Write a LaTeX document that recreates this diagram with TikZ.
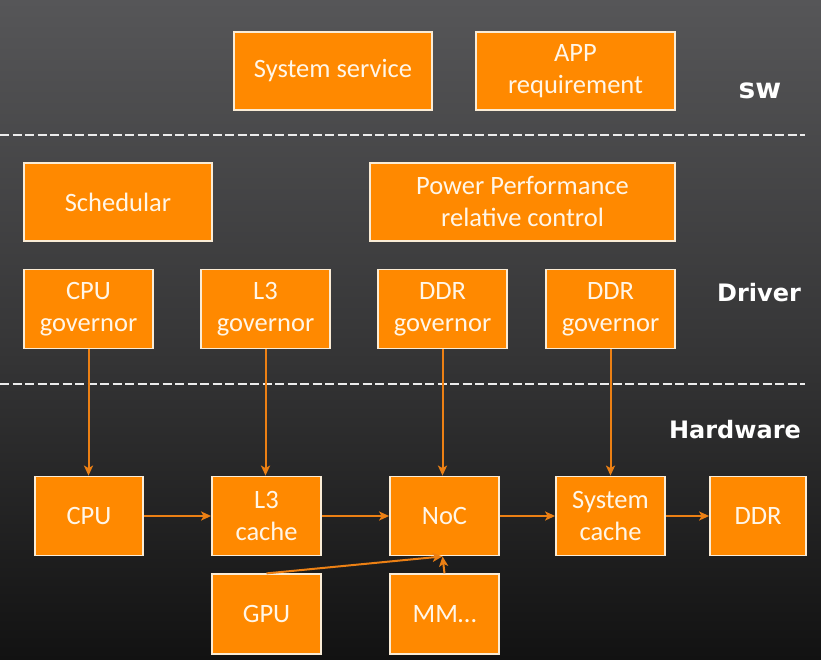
\documentclass[tikz,border=0pt]{standalone}
\usepackage{fontspec}
\setmainfont{Carlito}
\newfontfamily\layerfont{DejaVu Sans}
\usepackage{xcolor}
\usetikzlibrary{positioning, arrows.meta}

\definecolor{boxorange}{RGB}{255,137,0}
\definecolor{boxedge}{RGB}{250,236,214}
\definecolor{boxtext}{RGB}{255,246,232}
\definecolor{linkorange}{RGB}{236,128,20}
\definecolor{bgtop}{RGB}{86,86,88}
\definecolor{bgbottom}{RGB}{18,18,18}

\begin{document}
\begin{tikzpicture}[
    x=1pt, y=-1pt,
    block/.style={rectangle, draw=boxedge, line width=1.8pt, fill=boxorange,
        text=boxtext, align=center, inner sep=0pt,
        minimum height=78pt, font=\fontsize{26.5}{32}\selectfont},
    wide/.style={block, minimum width=198pt},
    gov/.style={block, minimum width=129pt, minimum height=79pt},
    hw/.style={block, minimum width=109pt, minimum height=79pt},
    layer/.style={text=white, font=\layerfont\bfseries\fontsize{24}{28}\selectfont},
    link/.style={draw=linkorange, line width=2pt, -{Stealth[length=10pt, width=9pt, inset=2.5pt]}},
    separator/.style={draw=white!85!gray, line width=2.8pt, dash pattern=on 9pt off 3.5pt}
]

% Background
\shade[top color=bgtop, bottom color=bgbottom, middle color=bgtop!55!bgbottom]
    (0,0) rectangle (821,660);
\useasboundingbox (0,0) rectangle (821,660);

% Software layer
\node[wide] (sysserv) at (333,71) {System service};
\node[wide, minimum width=199pt] (app) at (575.5,71) {APP\\requirement};
\node[layer, font=\layerfont\bfseries\fontsize{28}{32}\selectfont] (sw) at (760,91) {sw};

\draw[separator] (0,135) -- (805,135);

% Driver layer
\node[wide, minimum width=188pt] (sched) at (118,202) {Schedular};
\node[wide, minimum width=305pt] (ppc) at (522.5,202) {Power Performance\\relative control};

\node[gov] (cpugov) at (88.5,309) {CPU\\governor};
\node[gov] (l3gov) at (265.5,309) {L3\\governor};
\node[gov] (ddrgov) at (442.5,309) {DDR\\governor};
\node[gov] (ddrgovb) at (610.5,309) {DDR\\governor};
\node[layer] (driver) at (759,293) {Driver};

\draw[separator] (0,384) -- (805,384);

% Hardware layer
\node[layer] (hardware) at (735,430) {Hardware};

\node[hw, minimum width=108pt] (cpu) at (89,516) {CPU};
\node[hw] (l3) at (266.5,516) {L3\\cache};
\node[hw] (noc) at (444.5,516) {NoC};
\node[hw] (syscache) at (610.5,516) {System\\cache};
\node[hw, minimum width=96pt] (ddr) at (758,516) {DDR};

\node[hw, minimum height=80pt, below=17pt of l3] (gpu) {GPU};
\node[hw, minimum height=80pt, below=17pt of noc] (mm) {MM\ldots};

% Edges
\draw[link] (cpugov.south) -- (cpugov.south |- cpu.north);
\draw[link] (l3gov.south) -- (l3gov.south |- l3.north);
\draw[link] (ddrgov.south) -- (ddrgov.south |- noc.north);
\draw[link] (ddrgovb.south) -- (ddrgovb.south |- syscache.north);

\draw[link] (cpu) -- (l3);
\draw[link] (l3) -- (noc);
\draw[link] (noc) -- (syscache);
\draw[link] (syscache) -- (ddr);

\draw[link] (gpu.north) -- ([xshift=-2pt]noc.south);
\draw[link] (mm.north) -- ([xshift=-2pt]noc.south);

\end{tikzpicture}
\end{document}
